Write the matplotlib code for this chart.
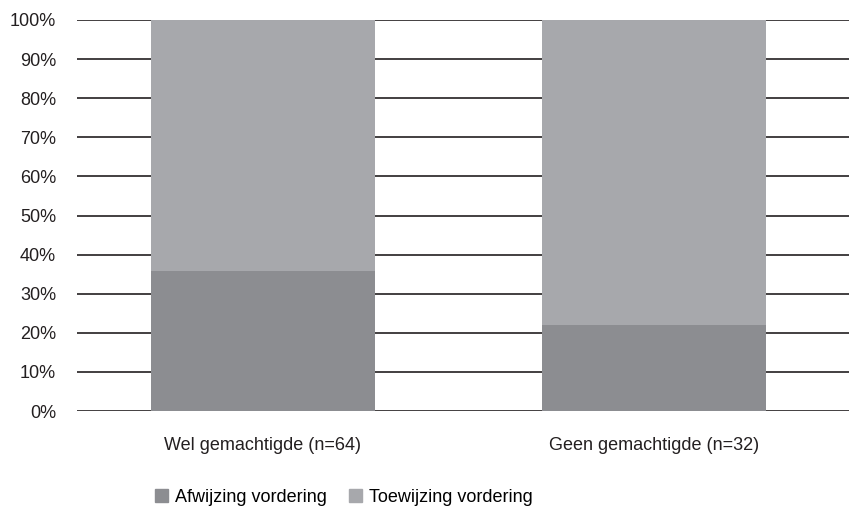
import matplotlib.pyplot as plt
from matplotlib.patches import Patch

categories = ['Wel gemachtigde (n=64)', 'Geen gemachtigde (n=32)']
afwijzing = [35.9, 21.9]
toewijzing = [64.1, 78.1]
series_labels = ['Afwijzing vordering', 'Toewijzing vordering']
yticks = list(range(0, 101, 10))

dark = '#8c8d91'
light = '#a7a8ac'

plt.rcParams['font.family'] = ['Liberation Sans', 'DejaVu Sans']

fig = plt.figure(figsize=(8.49, 5.08), dpi=100)
ax = fig.add_axes([77 / 849, 97 / 508, 772 / 849, 391 / 508])

x = list(range(len(categories)))
ax.bar(x, afwijzing, width=0.572, color=dark, zorder=3)
ax.bar(x, toewijzing, width=0.572, bottom=afwijzing, color=light, zorder=3)

ax.set_ylim(0, 100)
ax.set_xlim(-0.475, 1.497)
ax.set_yticks(yticks)
ax.set_yticklabels([f'{t}%' for t in yticks], fontsize=13, color='#231f20')
ax.set_xticks(x)
ax.set_xticklabels(categories, fontsize=13, color='#231f20')
ax.tick_params(axis='y', length=0, pad=15)
ax.tick_params(axis='x', length=0, pad=19)

for t in yticks:
    ax.axhline(t, color='#231f20', linewidth=1.2, zorder=1)
for s in ax.spines.values():
    s.set_visible(False)

handles = [Patch(color=dark), Patch(color=light)]
fig.legend(handles, series_labels, loc='center left', bbox_to_anchor=(155 / 849, 11 / 508),
           ncol=2, frameon=False, fontsize=13, handlelength=0.7, handleheight=0.7,
           handletextpad=0.4, columnspacing=1.25, borderaxespad=0, borderpad=0)

fig.savefig('out.png', dpi=100)
